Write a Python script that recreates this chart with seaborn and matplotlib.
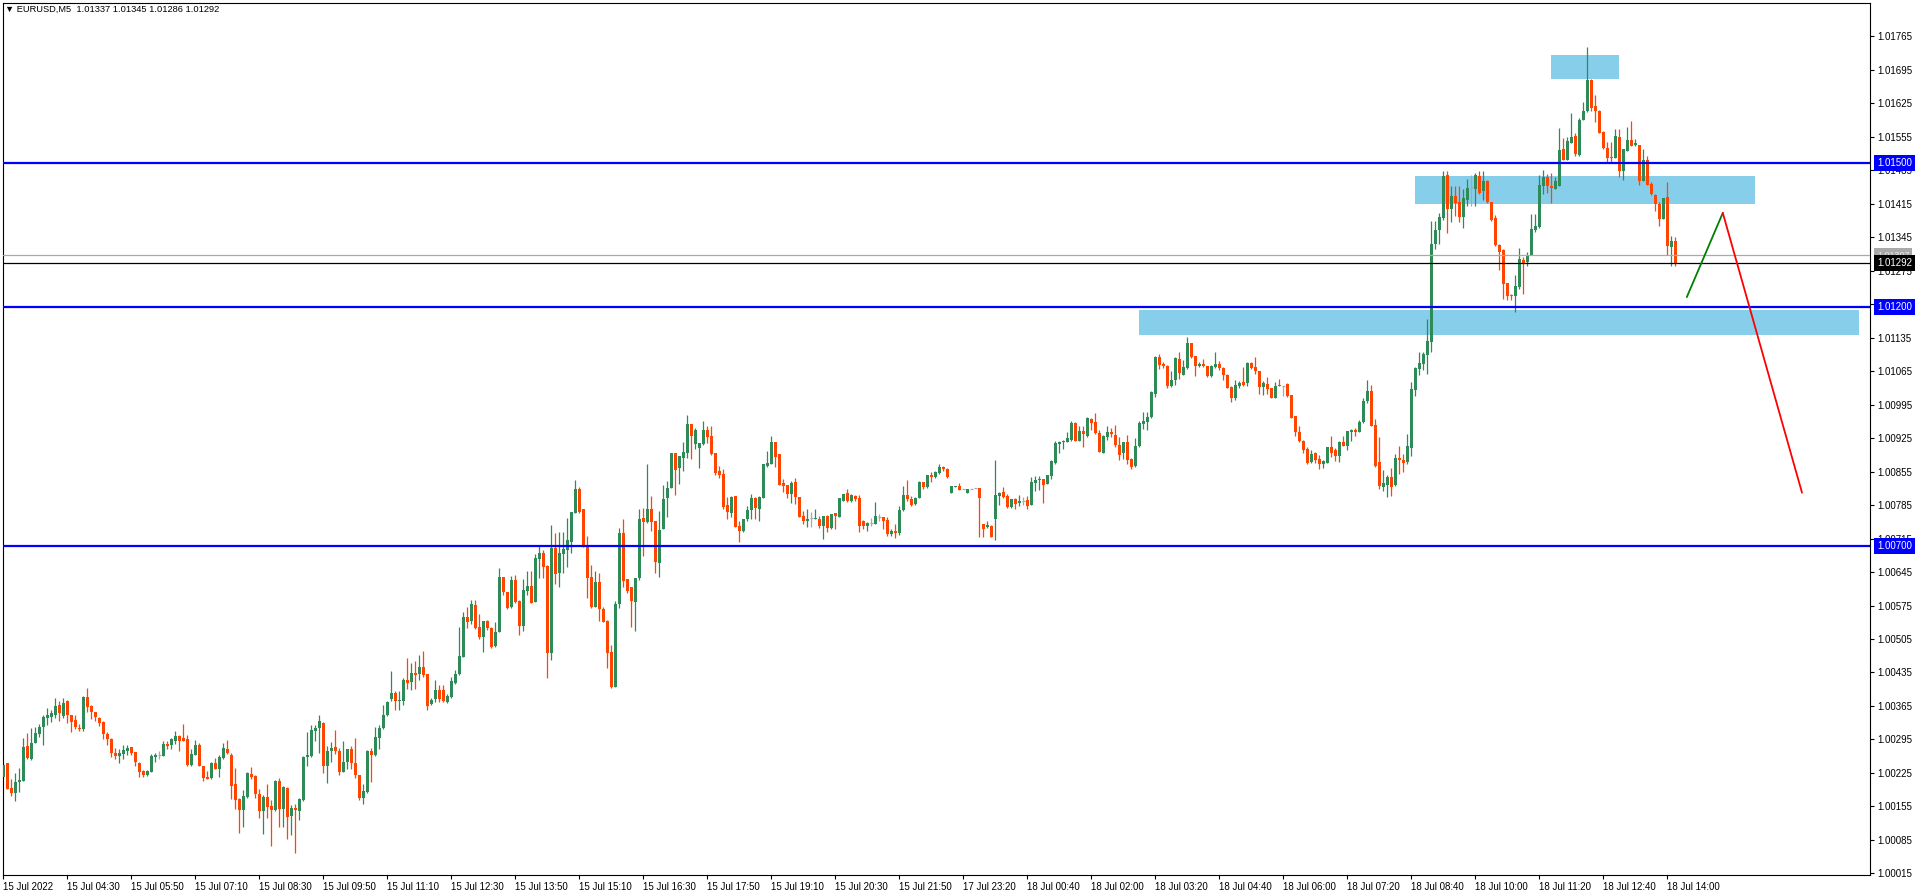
import numpy as np
import pandas as pd
import matplotlib
matplotlib.use("Agg")
import matplotlib.pyplot as plt
from matplotlib.patches import Rectangle
import seaborn as sns

# ---------------- data (EURUSD M5) ----------------
opens = [
    1.00217, 1.00245, 1.00194, 1.00184, 1.00205, 1.00208, 1.00281, 1.00255, 1.00288, 1.00307,
    1.00320, 1.00339, 1.00342, 1.00347, 1.00368, 1.00344, 1.00376, 1.00346, 1.00335, 1.00319,
    1.00316, 1.00384, 1.00365, 1.00353, 1.00339, 1.00332, 1.00307, 1.00296, 1.00267, 1.00261,
    1.00265, 1.00271, 1.00279, 1.00269, 1.00245, 1.00229, 1.00221, 1.00227, 1.00258, 1.00263,
    1.00261, 1.00286, 1.00284, 1.00292, 1.00302, 1.00297, 1.00295, 1.00241, 1.00263, 1.00283,
    1.00240, 1.00217, 1.00215, 1.00245, 1.00234, 1.00256, 1.00275, 1.00263, 1.00202, 1.00170,
    1.00148, 1.00175, 1.00222, 1.00219, 1.00180, 1.00145, 1.00175, 1.00156, 1.00148, 1.00209,
    1.00150, 1.00194, 1.00135, 1.00152, 1.00146, 1.00168, 1.00258, 1.00261, 1.00313, 1.00318,
    1.00330, 1.00240, 1.00270, 1.00279, 1.00270, 1.00226, 1.00247, 1.00276, 1.00246, 1.00220,
    1.00173, 1.00185, 1.00271, 1.00262, 1.00298, 1.00318, 1.00346, 1.00380, 1.00392, 1.00375,
    1.00376, 1.00420, 1.00415, 1.00433, 1.00431, 1.00447, 1.00431, 1.00370, 1.00379, 1.00398,
    1.00398, 1.00374, 1.00384, 1.00413, 1.00431, 1.00468, 1.00551, 1.00543, 1.00577, 1.00530,
    1.00510, 1.00543, 1.00529, 1.00491, 1.00520, 1.00635, 1.00604, 1.00572, 1.00628, 1.00584,
    1.00533, 1.00605, 1.00616, 1.00583, 1.00673, 1.00685, 1.00658, 1.00475, 1.00696, 1.00642,
    1.00682, 1.00692, 1.00708, 1.00768, 1.00819, 1.00777, 1.00700, 1.00635, 1.00572, 1.00625,
    1.00567, 1.00542, 1.00477, 1.00405, 1.00579, 1.00727, 1.00630, 1.00614, 1.00583, 1.00633,
    1.00758, 1.00749, 1.00776, 1.00752, 1.00663, 1.00734, 1.00799, 1.00821, 1.00893, 1.00862,
    1.00884, 1.00894, 1.00954, 1.00912, 1.00905, 1.00912, 1.00942, 1.00930, 1.00894, 1.00856,
    1.00850, 1.00785, 1.00769, 1.00805, 1.00742, 1.00731, 1.00756, 1.00775, 1.00799, 1.00776,
    1.00800, 1.00867, 1.00871, 1.00917, 1.00891, 1.00832, 1.00828, 1.00808, 1.00834, 1.00802,
    1.00763, 1.00752, 1.00758, 1.00755, 1.00757, 1.00742, 1.00762, 1.00738, 1.00768, 1.00761,
    1.00794, 1.00811, 1.00794, 1.00804, 1.00800, 1.00751, 1.00741, 1.00748, 1.00746, 1.00760,
    1.00761, 1.00754, 1.00725, 1.00731, 1.00727, 1.00774, 1.00807, 1.00797, 1.00788, 1.00800,
    1.00833, 1.00823, 1.00847, 1.00844, 1.00853, 1.00865, 1.00861, 1.00811, 1.00823, 1.00825,
    1.00818, 1.00811, 1.00818, 1.00821, 1.00821, 1.00745, 1.00739, 1.00741, 1.00757, 1.00805,
    1.00812, 1.00805, 1.00781, 1.00797, 1.00789, 1.00793, 1.00795, 1.00785, 1.00832, 1.00837,
    1.00839, 1.00830, 1.00846, 1.00873, 1.00913, 1.00917, 1.00917, 1.00922, 1.00957, 1.00920,
    1.00940, 1.00929, 1.00966, 1.00959, 1.00936, 1.00895, 1.00927, 1.00938, 1.00932, 1.00910,
    1.00893, 1.00917, 1.00882, 1.00867, 1.00909, 1.00955, 1.00959, 1.00969, 1.01018, 1.01095,
    1.01081, 1.01076, 1.01034, 1.01046, 1.01090, 1.01058, 1.01072, 1.01124, 1.01096, 1.01075,
    1.01081, 1.01075, 1.01055, 1.01074, 1.01081, 1.01072, 1.01058, 1.01032, 1.01009, 1.01034,
    1.01042, 1.01040, 1.01082, 1.01074, 1.01065, 1.01032, 1.01039, 1.01029, 1.01009, 1.01037,
    1.01035, 1.01039, 1.01015, 1.00972, 1.00938, 1.00919, 1.00903, 1.00875, 1.00894, 1.00881,
    1.00872, 1.00874, 1.00907, 1.00901, 1.00888, 1.00917, 1.00909, 1.00937, 1.00943, 1.00937,
    1.00959, 1.01002, 1.01024, 1.00952, 1.00875, 1.00823, 1.00828, 1.00844, 1.00827, 1.00884,
    1.00879, 1.00875, 1.00905, 1.01025, 1.01069, 1.01080, 1.01099, 1.01126, 1.01331, 1.01361,
    1.01386, 1.01476, 1.01404, 1.01432, 1.01418, 1.01387, 1.01423, 1.01450, 1.01446, 1.01474,
    1.01441, 1.01462, 1.01418, 1.01385, 1.01328, 1.01319, 1.01249, 1.01225, 1.01222, 1.01241,
    1.01298, 1.01293, 1.01308, 1.01361, 1.01366, 1.01453, 1.01471, 1.01452, 1.01446, 1.01452,
    1.01529, 1.01506, 1.01542, 1.01556, 1.01518, 1.01591, 1.01609, 1.01673, 1.01619, 1.01610,
    1.01565, 1.01531, 1.01513, 1.01510, 1.01554, 1.01483, 1.01526, 1.01549, 1.01538, 1.01539,
    1.01462, 1.01506, 1.01457, 1.01434, 1.01415, 1.01384, 1.01429, 1.01324, 1.01337,
]
highs = [
    1.00246, 1.00246, 1.00212, 1.00225, 1.00235, 1.00298, 1.00309, 1.00318, 1.00321, 1.00328,
    1.00347, 1.00361, 1.00357, 1.00382, 1.00375, 1.00382, 1.00378, 1.00346, 1.00346, 1.00328,
    1.00385, 1.00403, 1.00368, 1.00353, 1.00342, 1.00334, 1.00311, 1.00298, 1.00277, 1.00274,
    1.00284, 1.00284, 1.00279, 1.00269, 1.00247, 1.00232, 1.00232, 1.00264, 1.00267, 1.00270,
    1.00292, 1.00292, 1.00297, 1.00312, 1.00305, 1.00328, 1.00305, 1.00274, 1.00293, 1.00288,
    1.00240, 1.00228, 1.00248, 1.00256, 1.00262, 1.00288, 1.00293, 1.00267, 1.00235, 1.00173,
    1.00189, 1.00227, 1.00238, 1.00220, 1.00192, 1.00178, 1.00201, 1.00168, 1.00211, 1.00215,
    1.00197, 1.00196, 1.00157, 1.00159, 1.00173, 1.00260, 1.00311, 1.00326, 1.00326, 1.00347,
    1.00332, 1.00281, 1.00290, 1.00314, 1.00278, 1.00292, 1.00276, 1.00281, 1.00298, 1.00221,
    1.00201, 1.00272, 1.00278, 1.00321, 1.00325, 1.00366, 1.00375, 1.00438, 1.00396, 1.00396,
    1.00424, 1.00465, 1.00455, 1.00459, 1.00471, 1.00480, 1.00431, 1.00382, 1.00419, 1.00409,
    1.00409, 1.00391, 1.00426, 1.00440, 1.00530, 1.00562, 1.00572, 1.00586, 1.00586, 1.00557,
    1.00543, 1.00544, 1.00530, 1.00540, 1.00653, 1.00635, 1.00604, 1.00637, 1.00639, 1.00586,
    1.00630, 1.00647, 1.00647, 1.00683, 1.00701, 1.00691, 1.00660, 1.00743, 1.00727, 1.00728,
    1.00729, 1.00758, 1.00771, 1.00838, 1.00822, 1.00777, 1.00721, 1.00660, 1.00647, 1.00644,
    1.00571, 1.00544, 1.00492, 1.00585, 1.00738, 1.00757, 1.00630, 1.00614, 1.00633, 1.00776,
    1.00778, 1.00872, 1.00805, 1.00752, 1.00772, 1.00827, 1.00835, 1.00894, 1.00894, 1.00888,
    1.00917, 1.00974, 1.00954, 1.00947, 1.00914, 1.00961, 1.00950, 1.00950, 1.00894, 1.00867,
    1.00860, 1.00802, 1.00805, 1.00805, 1.00752, 1.00757, 1.00784, 1.00808, 1.00802, 1.00804,
    1.00870, 1.00899, 1.00930, 1.00917, 1.00891, 1.00839, 1.00828, 1.00835, 1.00842, 1.00802,
    1.00773, 1.00776, 1.00771, 1.00777, 1.00763, 1.00762, 1.00764, 1.00766, 1.00769, 1.00799,
    1.00808, 1.00818, 1.00808, 1.00806, 1.00806, 1.00753, 1.00750, 1.00758, 1.00791, 1.00767,
    1.00761, 1.00760, 1.00734, 1.00745, 1.00784, 1.00825, 1.00837, 1.00804, 1.00802, 1.00835,
    1.00833, 1.00849, 1.00854, 1.00856, 1.00870, 1.00866, 1.00862, 1.00825, 1.00826, 1.00831,
    1.00818, 1.00818, 1.00818, 1.00821, 1.00821, 1.00745, 1.00751, 1.00743, 1.00880, 1.00812,
    1.00823, 1.00809, 1.00798, 1.00800, 1.00807, 1.00803, 1.00804, 1.00844, 1.00846, 1.00846,
    1.00839, 1.00847, 1.00880, 1.00920, 1.00920, 1.00922, 1.00938, 1.00960, 1.00959, 1.00950,
    1.00950, 1.00969, 1.00967, 1.00978, 1.00943, 1.00931, 1.00950, 1.00947, 1.00952, 1.00927,
    1.00917, 1.00931, 1.00883, 1.00925, 1.00960, 1.00980, 1.00980, 1.01023, 1.01097, 1.01102,
    1.01084, 1.01077, 1.01065, 1.01095, 1.01105, 1.01088, 1.01137, 1.01124, 1.01096, 1.01084,
    1.01090, 1.01076, 1.01077, 1.01105, 1.01086, 1.01074, 1.01060, 1.01035, 1.01046, 1.01044,
    1.01074, 1.01084, 1.01084, 1.01095, 1.01065, 1.01045, 1.01053, 1.01029, 1.01042, 1.01048,
    1.01035, 1.01040, 1.01015, 1.00972, 1.00951, 1.00922, 1.00907, 1.00900, 1.00896, 1.00889,
    1.00880, 1.00907, 1.00930, 1.00905, 1.00919, 1.00930, 1.00940, 1.00945, 1.00946, 1.00963,
    1.01008, 1.01046, 1.01036, 1.00965, 1.00928, 1.00858, 1.00848, 1.00863, 1.00891, 1.00909,
    1.00891, 1.00933, 1.01043, 1.01074, 1.01106, 1.01106, 1.01174, 1.01379, 1.01379, 1.01396,
    1.01483, 1.01483, 1.01453, 1.01453, 1.01453, 1.01446, 1.01467, 1.01476, 1.01479, 1.01483,
    1.01483, 1.01464, 1.01418, 1.01392, 1.01330, 1.01321, 1.01249, 1.01227, 1.01267, 1.01323,
    1.01303, 1.01314, 1.01394, 1.01394, 1.01476, 1.01486, 1.01478, 1.01479, 1.01472, 1.01573,
    1.01552, 1.01554, 1.01605, 1.01563, 1.01594, 1.01629, 1.01743, 1.01676, 1.01643, 1.01612,
    1.01567, 1.01544, 1.01545, 1.01572, 1.01572, 1.01530, 1.01575, 1.01588, 1.01551, 1.01539,
    1.01529, 1.01516, 1.01460, 1.01436, 1.01418, 1.01427, 1.01461, 1.01347, 1.01345,
]
lows = [
    1.00215, 1.00192, 1.00177, 1.00166, 1.00185, 1.00208, 1.00254, 1.00251, 1.00288, 1.00300,
    1.00284, 1.00325, 1.00332, 1.00339, 1.00334, 1.00340, 1.00330, 1.00311, 1.00316, 1.00312,
    1.00312, 1.00353, 1.00337, 1.00334, 1.00323, 1.00295, 1.00284, 1.00258, 1.00254, 1.00245,
    1.00255, 1.00262, 1.00263, 1.00240, 1.00217, 1.00217, 1.00218, 1.00226, 1.00247, 1.00254,
    1.00261, 1.00276, 1.00276, 1.00286, 1.00271, 1.00292, 1.00240, 1.00240, 1.00262, 1.00240,
    1.00208, 1.00212, 1.00212, 1.00234, 1.00217, 1.00255, 1.00265, 1.00171, 1.00149, 1.00100,
    1.00112, 1.00173, 1.00212, 1.00173, 1.00131, 1.00098, 1.00131, 1.00072, 1.00145, 1.00111,
    1.00111, 1.00086, 1.00096, 1.00058, 1.00127, 1.00166, 1.00240, 1.00258, 1.00292, 1.00267,
    1.00225, 1.00203, 1.00248, 1.00265, 1.00220, 1.00226, 1.00233, 1.00233, 1.00215, 1.00168,
    1.00159, 1.00184, 1.00206, 1.00261, 1.00274, 1.00316, 1.00344, 1.00375, 1.00357, 1.00356,
    1.00366, 1.00400, 1.00399, 1.00400, 1.00419, 1.00426, 1.00356, 1.00367, 1.00374, 1.00374,
    1.00374, 1.00372, 1.00382, 1.00411, 1.00429, 1.00468, 1.00527, 1.00537, 1.00526, 1.00505,
    1.00477, 1.00524, 1.00487, 1.00489, 1.00519, 1.00597, 1.00567, 1.00569, 1.00581, 1.00514,
    1.00521, 1.00597, 1.00581, 1.00583, 1.00632, 1.00632, 1.00424, 1.00462, 1.00619, 1.00614,
    1.00644, 1.00656, 1.00684, 1.00768, 1.00769, 1.00698, 1.00590, 1.00569, 1.00572, 1.00543,
    1.00540, 1.00445, 1.00402, 1.00405, 1.00569, 1.00613, 1.00602, 1.00530, 1.00521, 1.00628,
    1.00679, 1.00747, 1.00731, 1.00642, 1.00635, 1.00734, 1.00761, 1.00820, 1.00806, 1.00830,
    1.00856, 1.00883, 1.00881, 1.00902, 1.00863, 1.00911, 1.00915, 1.00890, 1.00848, 1.00841,
    1.00777, 1.00756, 1.00761, 1.00740, 1.00708, 1.00728, 1.00752, 1.00757, 1.00757, 1.00752,
    1.00799, 1.00865, 1.00870, 1.00865, 1.00827, 1.00813, 1.00799, 1.00790, 1.00788, 1.00761,
    1.00745, 1.00740, 1.00740, 1.00755, 1.00738, 1.00715, 1.00728, 1.00734, 1.00734, 1.00761,
    1.00793, 1.00791, 1.00791, 1.00793, 1.00729, 1.00734, 1.00731, 1.00741, 1.00745, 1.00752,
    1.00736, 1.00720, 1.00720, 1.00717, 1.00722, 1.00773, 1.00793, 1.00783, 1.00786, 1.00800,
    1.00818, 1.00821, 1.00833, 1.00842, 1.00851, 1.00856, 1.00842, 1.00811, 1.00823, 1.00817,
    1.00818, 1.00811, 1.00818, 1.00821, 1.00718, 1.00718, 1.00737, 1.00718, 1.00713, 1.00785,
    1.00800, 1.00780, 1.00780, 1.00777, 1.00784, 1.00785, 1.00777, 1.00785, 1.00814, 1.00817,
    1.00790, 1.00830, 1.00840, 1.00872, 1.00895, 1.00903, 1.00916, 1.00920, 1.00919, 1.00920,
    1.00906, 1.00927, 1.00943, 1.00934, 1.00896, 1.00895, 1.00922, 1.00927, 1.00906, 1.00879,
    1.00882, 1.00872, 1.00860, 1.00865, 1.00906, 1.00945, 1.00943, 1.00967, 1.01011, 1.01070,
    1.01072, 1.01030, 1.01032, 1.01037, 1.01049, 1.01058, 1.01070, 1.01093, 1.01055, 1.01074,
    1.01074, 1.01053, 1.01053, 1.01072, 1.01067, 1.01047, 1.01030, 1.01001, 1.01005, 1.01029,
    1.01034, 1.01035, 1.01070, 1.01060, 1.01018, 1.01016, 1.01018, 1.01008, 1.01008, 1.01034,
    1.01013, 1.01011, 1.00967, 1.00930, 1.00917, 1.00894, 1.00870, 1.00873, 1.00874, 1.00861,
    1.00863, 1.00874, 1.00885, 1.00877, 1.00875, 1.00909, 1.00901, 1.00919, 1.00930, 1.00937,
    1.00957, 1.00999, 1.00951, 1.00865, 1.00818, 1.00815, 1.00801, 1.00804, 1.00824, 1.00851,
    1.00854, 1.00872, 1.00888, 1.01013, 1.01058, 1.01068, 1.01060, 1.01105, 1.01321, 1.01331,
    1.01382, 1.01354, 1.01377, 1.01389, 1.01378, 1.01365, 1.01410, 1.01410, 1.01410, 1.01436,
    1.01422, 1.01417, 1.01380, 1.01326, 1.01277, 1.01216, 1.01214, 1.01213, 1.01188, 1.01236,
    1.01227, 1.01286, 1.01308, 1.01356, 1.01364, 1.01436, 1.01438, 1.01417, 1.01446, 1.01452,
    1.01506, 1.01506, 1.01542, 1.01515, 1.01515, 1.01591, 1.01607, 1.01610, 1.01586, 1.01563,
    1.01530, 1.01503, 1.01502, 1.01510, 1.01471, 1.01464, 1.01525, 1.01535, 1.01537, 1.01455,
    1.01462, 1.01455, 1.01434, 1.01401, 1.01368, 1.01384, 1.01308, 1.01284, 1.01286,
]
closes = [
    1.00242, 1.00192, 1.00182, 1.00206, 1.00210, 1.00279, 1.00256, 1.00288, 1.00309, 1.00321,
    1.00342, 1.00347, 1.00350, 1.00365, 1.00351, 1.00371, 1.00346, 1.00332, 1.00320, 1.00316,
    1.00383, 1.00362, 1.00353, 1.00341, 1.00330, 1.00307, 1.00295, 1.00267, 1.00261, 1.00267,
    1.00272, 1.00277, 1.00267, 1.00247, 1.00227, 1.00221, 1.00229, 1.00261, 1.00263, 1.00263,
    1.00286, 1.00281, 1.00295, 1.00302, 1.00291, 1.00292, 1.00242, 1.00265, 1.00283, 1.00240,
    1.00215, 1.00213, 1.00245, 1.00234, 1.00258, 1.00277, 1.00267, 1.00198, 1.00169, 1.00148,
    1.00176, 1.00225, 1.00217, 1.00180, 1.00146, 1.00175, 1.00154, 1.00148, 1.00209, 1.00150,
    1.00196, 1.00133, 1.00152, 1.00148, 1.00171, 1.00258, 1.00262, 1.00314, 1.00319, 1.00334,
    1.00240, 1.00271, 1.00278, 1.00271, 1.00227, 1.00248, 1.00274, 1.00245, 1.00220, 1.00173,
    1.00187, 1.00271, 1.00263, 1.00300, 1.00318, 1.00347, 1.00373, 1.00392, 1.00375, 1.00378,
    1.00420, 1.00412, 1.00433, 1.00429, 1.00447, 1.00429, 1.00365, 1.00377, 1.00398, 1.00379,
    1.00375, 1.00386, 1.00418, 1.00431, 1.00470, 1.00551, 1.00541, 1.00579, 1.00528, 1.00510,
    1.00543, 1.00527, 1.00489, 1.00520, 1.00635, 1.00604, 1.00570, 1.00628, 1.00583, 1.00533,
    1.00607, 1.00616, 1.00581, 1.00675, 1.00685, 1.00656, 1.00475, 1.00696, 1.00640, 1.00685,
    1.00694, 1.00712, 1.00771, 1.00818, 1.00771, 1.00700, 1.00632, 1.00571, 1.00625, 1.00567,
    1.00541, 1.00475, 1.00405, 1.00579, 1.00727, 1.00627, 1.00605, 1.00585, 1.00633, 1.00757,
    1.00749, 1.00777, 1.00749, 1.00665, 1.00733, 1.00798, 1.00821, 1.00893, 1.00858, 1.00888,
    1.00897, 1.00954, 1.00930, 1.00942, 1.00914, 1.00942, 1.00928, 1.00892, 1.00853, 1.00849,
    1.00782, 1.00770, 1.00802, 1.00740, 1.00731, 1.00756, 1.00775, 1.00799, 1.00778, 1.00802,
    1.00870, 1.00874, 1.00917, 1.00886, 1.00828, 1.00825, 1.00809, 1.00832, 1.00801, 1.00761,
    1.00752, 1.00757, 1.00758, 1.00758, 1.00742, 1.00762, 1.00738, 1.00766, 1.00762, 1.00799,
    1.00808, 1.00793, 1.00806, 1.00798, 1.00742, 1.00741, 1.00747, 1.00748, 1.00762, 1.00760,
    1.00752, 1.00725, 1.00731, 1.00727, 1.00774, 1.00807, 1.00798, 1.00786, 1.00800, 1.00833,
    1.00823, 1.00847, 1.00844, 1.00854, 1.00865, 1.00861, 1.00844, 1.00825, 1.00826, 1.00817,
    1.00818, 1.00818, 1.00818, 1.00821, 1.00800, 1.00736, 1.00743, 1.00718, 1.00807, 1.00811,
    1.00802, 1.00781, 1.00797, 1.00788, 1.00793, 1.00793, 1.00783, 1.00833, 1.00838, 1.00840,
    1.00828, 1.00847, 1.00877, 1.00915, 1.00916, 1.00919, 1.00925, 1.00957, 1.00920, 1.00940,
    1.00933, 1.00967, 1.00957, 1.00936, 1.00897, 1.00929, 1.00938, 1.00934, 1.00910, 1.00889,
    1.00917, 1.00880, 1.00865, 1.00909, 1.00957, 1.00960, 1.00969, 1.01022, 1.01095, 1.01077,
    1.01075, 1.01034, 1.01046, 1.01093, 1.01062, 1.01074, 1.01124, 1.01095, 1.01075, 1.01081,
    1.01075, 1.01054, 1.01076, 1.01081, 1.01072, 1.01058, 1.01030, 1.01008, 1.01037, 1.01040,
    1.01037, 1.01082, 1.01072, 1.01065, 1.01032, 1.01040, 1.01027, 1.01010, 1.01035, 1.01034,
    1.01035, 1.01013, 1.00967, 1.00938, 1.00919, 1.00901, 1.00873, 1.00891, 1.00880, 1.00872,
    1.00877, 1.00907, 1.00895, 1.00888, 1.00917, 1.00909, 1.00940, 1.00943, 1.00938, 1.00959,
    1.01002, 1.01024, 1.00951, 1.00867, 1.00824, 1.00831, 1.00843, 1.00823, 1.00884, 1.00880,
    1.00874, 1.00909, 1.01027, 1.01071, 1.01082, 1.01101, 1.01128, 1.01331, 1.01361, 1.01387,
    1.01474, 1.01404, 1.01432, 1.01417, 1.01387, 1.01427, 1.01448, 1.01450, 1.01476, 1.01437,
    1.01462, 1.01418, 1.01381, 1.01328, 1.01314, 1.01248, 1.01223, 1.01222, 1.01243, 1.01300,
    1.01289, 1.01308, 1.01363, 1.01368, 1.01455, 1.01471, 1.01452, 1.01448, 1.01462, 1.01528,
    1.01506, 1.01546, 1.01554, 1.01519, 1.01591, 1.01609, 1.01673, 1.01615, 1.01609, 1.01563,
    1.01531, 1.01510, 1.01510, 1.01556, 1.01483, 1.01530, 1.01549, 1.01537, 1.01542, 1.01462,
    1.01506, 1.01455, 1.01436, 1.01415, 1.01384, 1.01427, 1.01326, 1.01338, 1.01292,
]

x_tick_labels = [
    "15 Jul 2022", "15 Jul 04:30", "15 Jul 05:50", "15 Jul 07:10", "15 Jul 08:30",
    "15 Jul 09:50", "15 Jul 11:10", "15 Jul 12:30", "15 Jul 13:50", "15 Jul 15:10",
    "15 Jul 16:30", "15 Jul 17:50", "15 Jul 19:10", "15 Jul 20:30", "15 Jul 21:50",
    "17 Jul 23:20", "18 Jul 00:40", "18 Jul 02:00", "18 Jul 03:20", "18 Jul 04:40",
    "18 Jul 06:00", "18 Jul 07:20", "18 Jul 08:40", "18 Jul 10:00", "18 Jul 11:20",
    "18 Jul 12:40", "18 Jul 14:00",
]
y_tick_values = [
    1.00015, 1.00085, 1.00155, 1.00225, 1.00295, 1.00365, 1.00435, 1.00505, 1.00575,
    1.00645, 1.00715, 1.00785, 1.00855, 1.00925, 1.00995, 1.01065, 1.01135, 1.01205,
    1.01275, 1.01345, 1.01415, 1.01485, 1.01555, 1.01625, 1.01695, 1.01765,
]
level_prices = [1.01500, 1.01200, 1.00700]
ask_price = 1.01307
bid_price = 1.01292
title_text = "\u25BC EURUSD,M5  1.01337 1.01345 1.01286 1.01292"

# supply/demand zones: bar range and price range
zone_bar_start = [386.9, 352.9, 283.9]
zone_bar_end = [403.9, 437.9, 463.9]
zone_price_low = [1.01677, 1.01415, 1.01140]
zone_price_high = [1.01727, 1.01474, 1.01193]

# projected path
up_leg_bar = [420.9, 429.9]
up_leg_price = [1.01220, 1.01396]
down_leg_bar = [429.9, 449.7]
down_leg_price = [1.01396, 1.00811]

# ---------------- figure ----------------
assert len(opens) == len(highs) == len(lows) == len(closes)
n = len(opens)
df = pd.DataFrame({"bar": np.arange(n), "open": opens, "high": highs,
                   "low": lows, "close": closes})

sns.set_theme(style="white")
plt.rcParams["font.family"] = ["Liberation Sans", "DejaVu Sans"]
plt.rcParams["axes.edgecolor"] = "black"
plt.rcParams["axes.linewidth"] = 0.8

W, H = 1916, 896
fig = plt.figure(figsize=(W / 100, H / 100), dpi=100, facecolor="white")
left_px, right_px, top_px, bot_px = 2.5, 1870, 3, 875
ax = fig.add_axes([left_px / W, 1 - bot_px / H, (right_px - left_px) / W, (bot_px - top_px) / H])
ax.set_facecolor("white")

GREEN = "#2E8B57"
RED = "#FF4500"
GREY = "#A9A9A9"

up = df["close"] > df["open"]
down = df["close"] < df["open"]
doji = ~(up | down)
colors = np.where(up, GREEN, np.where(down, RED, GREY))

# zones (behind candles)
for x0, x1, y0, y1 in zip(zone_bar_start, zone_bar_end, zone_price_low, zone_price_high):
    ax.add_patch(Rectangle((x0, y0), x1 - x0, y1 - y0, facecolor="#87CEEB",
                           edgecolor="none", zorder=1))

# wicks
ax.vlines(df["bar"], df["low"], df["high"], colors=colors, linewidth=0.9, zorder=2)
# bodies
body_bottom = np.minimum(df["open"], df["close"])
body_h = np.maximum(np.abs(df["close"] - df["open"]), 0.000021)
mask = ~doji
ax.bar(df["bar"][mask], body_h[mask], bottom=body_bottom[mask], width=0.72,
       color=colors[mask], linewidth=0, zorder=3)
ax.hlines(df["open"][doji], df["bar"][doji] - 0.36, df["bar"][doji] + 0.36,
          colors=GREY, linewidth=0.9, zorder=3)

# level lines
for lv in level_prices:
    ax.axhline(lv, color="#0000FF", linewidth=1.6, zorder=4)
ax.axhline(ask_price, color="#A9A9A9", linewidth=0.9, zorder=4)
ax.axhline(bid_price, color="black", linewidth=0.9, zorder=4)

# projected path
path_up = pd.DataFrame({"bar": up_leg_bar, "price": up_leg_price})
path_dn = pd.DataFrame({"bar": down_leg_bar, "price": down_leg_price})
sns.lineplot(data=path_up, x="bar", y="price", color="#008000", linewidth=1.3, ax=ax, zorder=5)
sns.lineplot(data=path_dn, x="bar", y="price", color="#FF0000", linewidth=1.3, ax=ax, zorder=5)

ax.set_xlim(-0.2, 466.7)
ax.set_ylim(1.000115, 1.01835)

# axes, ticks
TICK_LEN, TICK_PAD, FS = 3, 2, 7
ax.yaxis.tick_right()
ax.set_yticks(y_tick_values)
ax.set_yticklabels([f"{v:.5f}" for v in y_tick_values])
ax.set_xticks(np.arange(0, 16 * len(x_tick_labels), 16))
ax.set_xticklabels(x_tick_labels, ha="left")
ax.tick_params(axis="y", which="major", direction="out", length=TICK_LEN, width=0.8,
               labelsize=FS, pad=TICK_PAD, colors="black", right=True, left=False)
ax.tick_params(axis="x", which="major", direction="out", length=TICK_LEN, width=0.8,
               labelsize=FS, pad=TICK_PAD, colors="black", bottom=True)
ax.set_xlabel("")
ax.set_ylabel("")
ax.grid(False)
for s in ax.spines.values():
    s.set_visible(True)
    s.set_color("black")
    s.set_linewidth(0.8)

# price tags on the right scale (text aligned with tick labels, box covers them)
def price_tag(price, face, txt_color, size=FS, z=10):
    ax.annotate(f"{price:.5f}", xy=(1.0, price), xycoords=("axes fraction", "data"),
                xytext=(TICK_LEN + TICK_PAD, 0), textcoords="offset points",
                ha="left", va="center", fontsize=size, color=txt_color, zorder=z,
                annotation_clip=False,
                bbox=dict(boxstyle="square,pad=0.3", facecolor=face, edgecolor="none"))

for lv in level_prices:
    price_tag(lv, "#0000FF", "white")
price_tag(ask_price, "#A9A9A9", "#E8E8E8", size=6.5, z=10)
price_tag(bid_price, "black", "white", z=11)

fig.text(5 / W, 1 - 5 / H, title_text, ha="left", va="top", fontsize=6.7, color="black")

fig.savefig("out.png", dpi=100, facecolor="white")
